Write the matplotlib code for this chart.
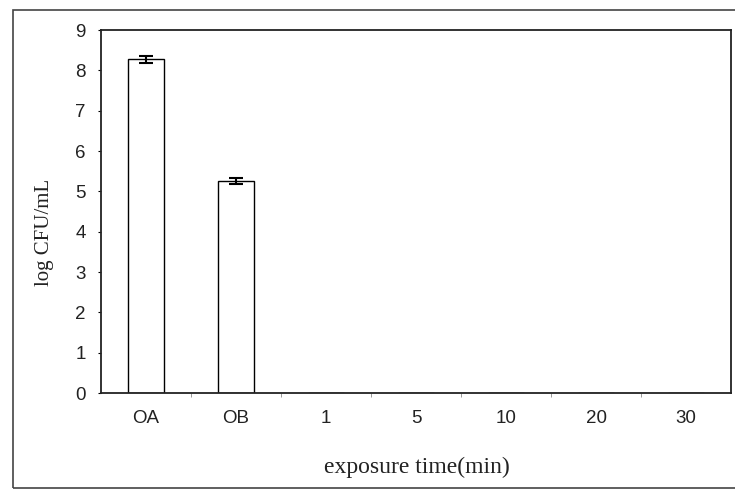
import numpy as np
import matplotlib
matplotlib.use('Agg')
from matplotlib import pyplot as plt
from matplotlib.patches import Rectangle

# viable counts after exposure, log CFU/mL
categories = ['OA', 'OB', '1', '5', '10', '20', '30']
log_cfu = [8.27, 5.25, 0, 0, 0, 0, 0]
log_err = [0.08, 0.07, 0, 0, 0, 0, 0]
y_ticks = [0, 1, 2, 3, 4, 5, 6, 7, 8, 9]

fig = plt.figure(figsize=(7.35, 4.93), dpi=100)
ax = fig.add_axes([0.1374, 0.2028, 0.8572, 0.7363])

# outer border around the whole chart (right side runs off the edge)
fig.patches.append(Rectangle((13 / 735, 5 / 493), 740 / 735, 478 / 493,
                             transform=fig.transFigure, fill=False,
                             edgecolor='#444444', linewidth=1.2))

x = np.arange(len(categories))
ax.bar(x, log_cfu, width=0.4, color='white', edgecolor='black', linewidth=1.0)
errs = np.array(log_err)
mask = np.array(log_cfu) > 0
ax.errorbar(x[mask], np.array(log_cfu)[mask], yerr=errs[mask], fmt='none',
            ecolor='black', elinewidth=1.5, capsize=5, capthick=1.5)

ax.set_xlim(-0.5, len(categories) - 0.5)
ax.set_ylim(0, 9)
ax.set_yticks(y_ticks)
ax.set_xticks(x)
ax.set_xticklabels(categories)
ax.set_xticks(np.arange(len(categories) - 1) + 0.5, minor=True)
ax.tick_params(axis='x', which='major', length=0, pad=12, labelsize=13.5,
               labelcolor='#222222')
ax.tick_params(axis='x', which='minor', length=3, direction='out', color='#888888')
ax.tick_params(axis='y', length=2, direction='out', pad=9, labelsize=13.5,
               labelcolor='#222222')
for lbl in ax.get_xticklabels() + ax.get_yticklabels():
    lbl.set_family('Liberation Sans')

for s in ax.spines.values():
    s.set_linewidth(1.3)
    s.set_color('#222222')

fig.text(417 / 735, 1 - 467 / 493, 'exposure time(min)', family='Liberation Serif',
         fontsize=17, ha='center', va='center', color='#222222')
fig.text(45 / 735, 1 - 232 / 493, 'log CFU/mL', family='Liberation Serif',
         fontsize=15, ha='center', va='center', rotation=90, color='#222222')

fig.savefig('out.png', dpi=100)
